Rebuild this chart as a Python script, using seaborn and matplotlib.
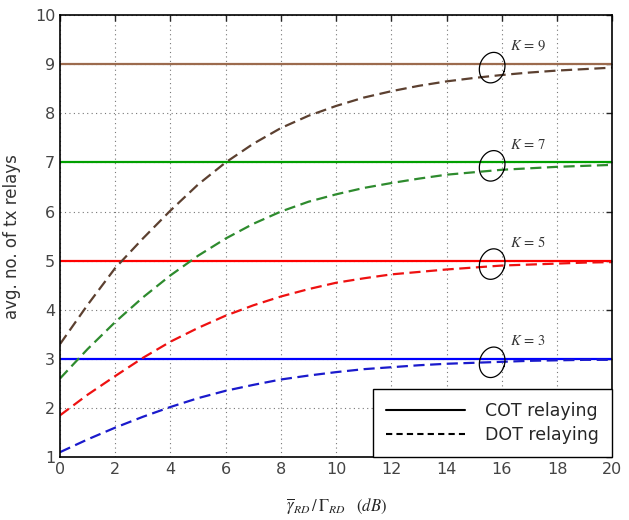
import numpy as np
import pandas as pd
import matplotlib
matplotlib.use("Agg")
import matplotlib.pyplot as plt
from matplotlib.lines import Line2D
import seaborn as sns

sns.set_style("white")
plt.rcParams['font.family'] = ['DejaVu Sans']
plt.rcParams['mathtext.fontset'] = 'stix'

snr_db = list(range(0, 21))
K_values = [3, 5, 7, 9]
dot_k3 = [1.10, 1.36, 1.60, 1.82, 2.02, 2.20, 2.35, 2.47, 2.58, 2.66, 2.73,
          2.79, 2.83, 2.87, 2.90, 2.92, 2.94, 2.96, 2.97, 2.98, 2.98]
dot_k5 = [1.85, 2.27, 2.65, 3.02, 3.35, 3.63, 3.88, 4.09, 4.27, 4.42, 4.55,
          4.64, 4.72, 4.77, 4.82, 4.86, 4.90, 4.92, 4.94, 4.96, 4.97]
dot_k7 = [2.60, 3.20, 3.75, 4.25, 4.70, 5.10, 5.45, 5.75, 6.00, 6.20, 6.35,
          6.48, 6.58, 6.67, 6.75, 6.80, 6.85, 6.88, 6.91, 6.93, 6.95]
dot_k9 = [3.30, 4.10, 4.85, 5.45, 6.02, 6.55, 7.00, 7.38, 7.70, 7.95, 8.15,
          8.32, 8.45, 8.56, 8.65, 8.72, 8.78, 8.83, 8.87, 8.90, 8.93]
cot_colors = {3: "#0000ff", 5: "#ff0000", 7: "#00a000", 9: "#9c6b4e"}
dot_colors = {3: "#1a1acc", 5: "#ee1111", 7: "#2e8b2e", 9: "#5c4030"}
label_text = {k: f"$K\\,=\\,{k}$" for k in K_values}

dot = {3: dot_k3, 5: dot_k5, 7: dot_k7, 9: dot_k9}

rows = []
for k in K_values:
    for x, y in zip(snr_db, dot[k]):
        rows.append({"snr": x, "val": y, "K": k, "scheme": "DOT"})
    for x in snr_db:
        rows.append({"snr": x, "val": float(k), "K": k, "scheme": "COT"})
df = pd.DataFrame(rows)

fig = plt.figure(figsize=(6.29, 5.20), dpi=100)
ax = fig.add_axes([0.0954, 0.121, 0.878, 0.850])

for k in K_values:
    sub = df[(df.K == k) & (df.scheme == "COT")]
    sns.lineplot(data=sub, x="snr", y="val", ax=ax, color=cot_colors[k],
                 linewidth=1.6, linestyle="-")
for k in K_values:
    sub = df[(df.K == k) & (df.scheme == "DOT")]
    sns.lineplot(data=sub, x="snr", y="val", ax=ax, color=dot_colors[k],
                 linewidth=1.6, linestyle=(0, (5, 2.5)))

ax.set_xlim(0, 20)
ax.set_ylim(1, 10)

# tilted ellipse annotations drawn in pixel space
fig.canvas.draw()
t = np.linspace(0, 2 * np.pi, 100)
a_px, b_px, th = 12.5, 15.5, np.deg2rad(-18)
ex = a_px * np.cos(t) * np.cos(th) - b_px * np.sin(t) * np.sin(th)
ey = a_px * np.cos(t) * np.sin(th) + b_px * np.sin(t) * np.cos(th)
for k in K_values:
    cx, cy = 15.65, k - 0.07
    pc = ax.transData.transform((cx, cy))
    pts = ax.transData.inverted().transform(np.column_stack([pc[0] + ex, pc[1] + ey]))
    ax.plot(pts[:, 0], pts[:, 1], color="black", linewidth=0.9, zorder=5)
    ax.text(16.3, k + 0.37, label_text[k], fontsize=10.5, ha="left",
            va="center", color="#333333")

ax.set_xticks(range(0, 21, 2))
ax.set_yticks(range(1, 11))
ax.grid(True, linestyle=(0, (1, 3)), color="#777777", linewidth=0.8)
ax.tick_params(direction="in", top=True, right=True, labelsize=11.5,
               labelcolor="#444444", length=4, width=1)
for s in ax.spines.values():
    s.set_color("black")
    s.set_linewidth(1.2)

ax.set_xlabel(r"$\overline{\gamma}_{RD}\,/\,\Gamma_{RD}\quad(dB)$", fontsize=12,
              labelpad=14)
ax.set_ylabel("avg. no. of tx relays", fontsize=12, color="#333333", labelpad=10)

handles = [Line2D([], [], color="black", linewidth=1.5, linestyle="-"),
           Line2D([], [], color="black", linewidth=1.5, linestyle=(0, (3, 2)))]
leg = ax.legend(handles, ["COT relaying", "DOT relaying"], loc="lower right",
                fontsize=12.5, frameon=True, fancybox=False, handlelength=4.5,
                handletextpad=1.2, borderaxespad=0, framealpha=1,
                edgecolor="black", borderpad=0.75, labelspacing=0.35)
leg.get_frame().set_linewidth(1.0)

fig.savefig("out.png", dpi=100)
